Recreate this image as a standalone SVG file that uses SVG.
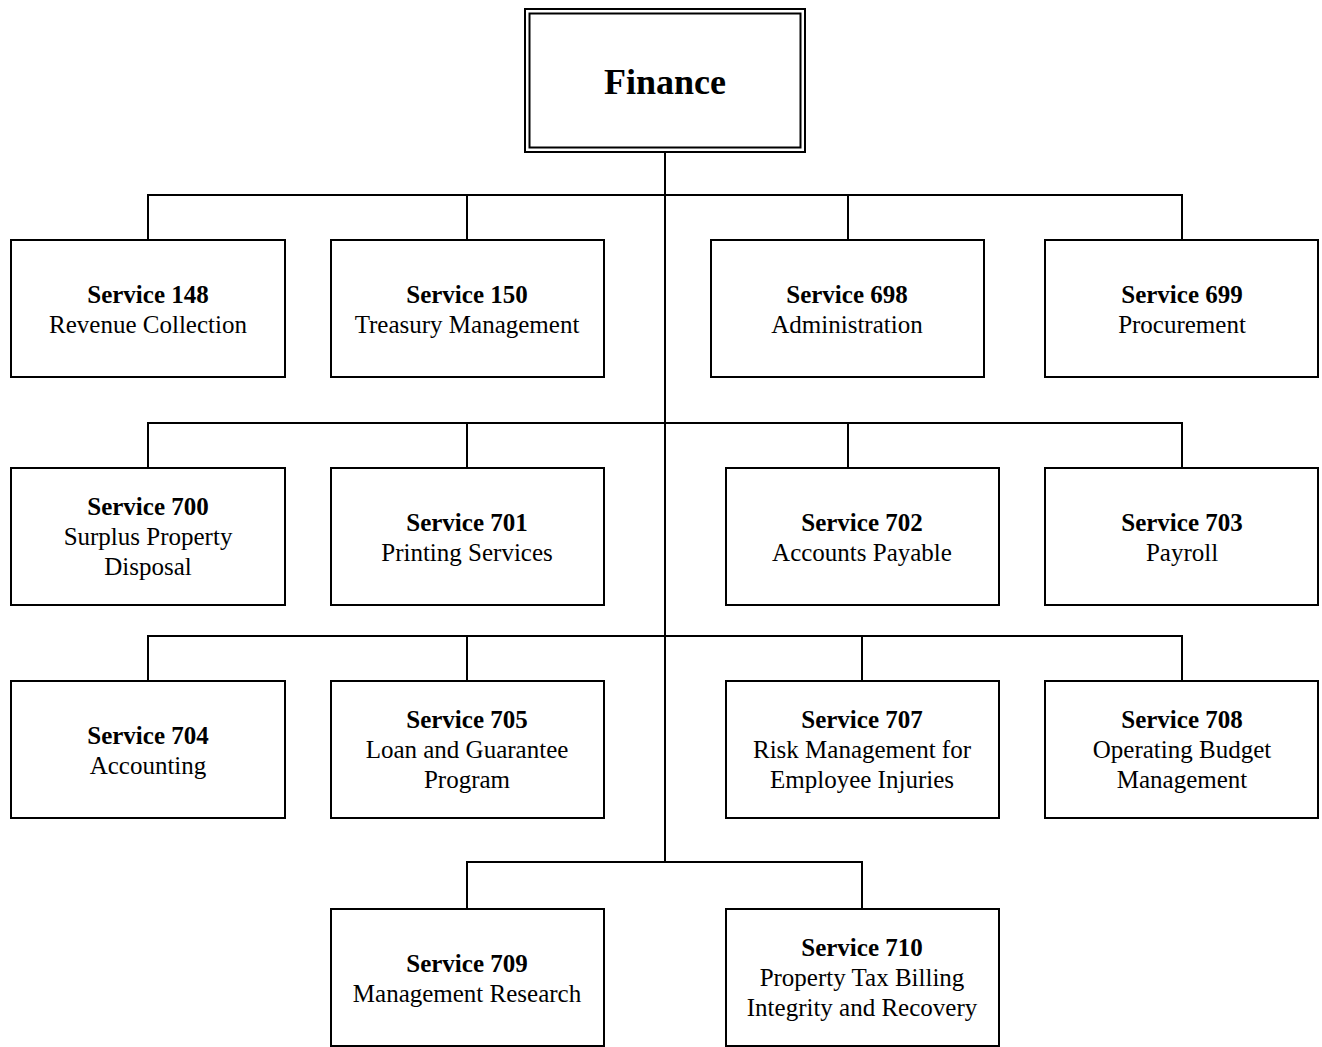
<svg xmlns="http://www.w3.org/2000/svg" width="1322" height="1047" viewBox="0 0 1322 1047">
<style>
.box{fill:#fff;stroke:#000;stroke-width:2}
.c{fill:none;stroke:#000;stroke-width:2}
text{font-family:"Liberation Serif","Times New Roman",serif;font-size:25px;text-anchor:middle;fill:#000}
.b{font-weight:bold}
.t{font-size:36px;font-weight:bold}
</style>
<rect width="1322" height="1047" fill="#fff"/>
<g id="connectors">
<path class="c" d="M665 152V861"/>
<path class="c" d="M148 240V195H1182V240M467 195V240M848 195V240"/>
<path class="c" d="M148 468V423H1182V468M467 423V468M848 423V468"/>
<path class="c" d="M148 681V636H1182V681M467 636V681M862 636V681"/>
<path class="c" d="M467 909V862H862V909"/>
</g>
<g id="finance">
<rect x="525" y="9" width="280" height="143" fill="#fff" stroke="#000" stroke-width="2"/>
<rect x="529.5" y="13.5" width="271" height="134" fill="none" stroke="#000" stroke-width="2"/>
<text class="t" x="665" y="94">Finance</text>
</g>
<g id="s148"><rect class="box" x="11" y="240" width="274" height="137"/><text class="b" x="148" y="303">Service 148</text><text x="148" y="333">Revenue Collection</text></g>
<g id="s150"><rect class="box" x="331" y="240" width="273" height="137"/><text class="b" x="467" y="303">Service 150</text><text x="467" y="333">Treasury Management</text></g>
<g id="s698"><rect class="box" x="711" y="240" width="273" height="137"/><text class="b" x="847" y="303">Service 698</text><text x="847" y="333">Administration</text></g>
<g id="s699"><rect class="box" x="1045" y="240" width="273" height="137"/><text class="b" x="1182" y="303">Service 699</text><text x="1182" y="333">Procurement</text></g>
<g id="s700"><rect class="box" x="11" y="468" width="274" height="137"/><text class="b" x="148" y="515">Service 700</text><text x="148" y="545">Surplus Property</text><text x="148" y="575">Disposal</text></g>
<g id="s701"><rect class="box" x="331" y="468" width="273" height="137"/><text class="b" x="467" y="531">Service 701</text><text x="467" y="561">Printing Services</text></g>
<g id="s702"><rect class="box" x="726" y="468" width="273" height="137"/><text class="b" x="862" y="531">Service 702</text><text x="862" y="561">Accounts Payable</text></g>
<g id="s703"><rect class="box" x="1045" y="468" width="273" height="137"/><text class="b" x="1182" y="531">Service 703</text><text x="1182" y="561">Payroll</text></g>
<g id="s704"><rect class="box" x="11" y="681" width="274" height="137"/><text class="b" x="148" y="744">Service 704</text><text x="148" y="774">Accounting</text></g>
<g id="s705"><rect class="box" x="331" y="681" width="273" height="137"/><text class="b" x="467" y="728">Service 705</text><text x="467" y="758">Loan and Guarantee</text><text x="467" y="788">Program</text></g>
<g id="s707"><rect class="box" x="726" y="681" width="273" height="137"/><text class="b" x="862" y="728">Service 707</text><text x="862" y="758">Risk Management for</text><text x="862" y="788">Employee Injuries</text></g>
<g id="s708"><rect class="box" x="1045" y="681" width="273" height="137"/><text class="b" x="1182" y="728">Service 708</text><text x="1182" y="758">Operating Budget</text><text x="1182" y="788">Management</text></g>
<g id="s709"><rect class="box" x="331" y="909" width="273" height="137"/><text class="b" x="467" y="972">Service 709</text><text x="467" y="1002">Management Research</text></g>
<g id="s710"><rect class="box" x="726" y="909" width="273" height="137"/><text class="b" x="862" y="956">Service 710</text><text x="862" y="986">Property Tax Billing</text><text x="862" y="1016">Integrity and Recovery</text></g>
</svg>
